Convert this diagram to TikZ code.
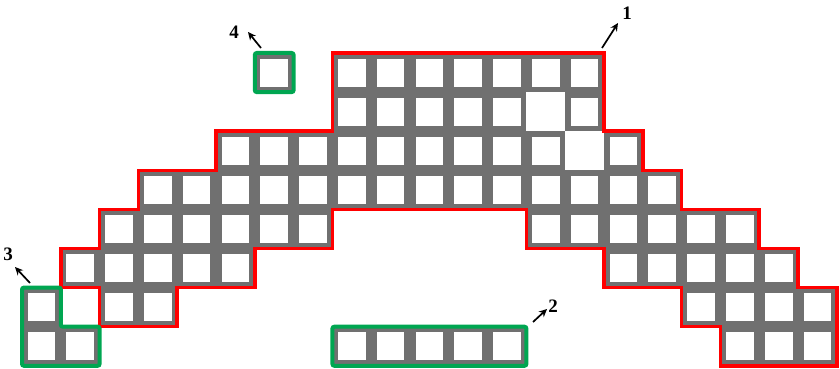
\documentclass[tikz,border=0pt]{standalone}
\usepackage{fontspec}
\setmainfont{Liberation Serif}
\usetikzlibrary{arrows.meta}
\definecolor{cellgray}{RGB}{112,112,112}
\definecolor{redline}{RGB}{255,0,0}
\definecolor{greenline}{RGB}{0,166,81}
\begin{document}
\begin{tikzpicture}[x=1pt,y=-1pt,
  lab/.style={font=\fontsize{19}{19}\selectfont\bfseries, inner sep=0pt},
  arr/.style={-{Stealth[length=8pt,width=7.5pt]}, line width=1.7pt},
  redpoly/.style={draw=redline, line width=3.5pt},
  greenbox/.style={draw=greenline, line width=4pt, rounded corners=2pt}]
\useasboundingbox (0,0) rectangle (840,369);
\begin{scope}[xshift=22pt, yshift=-53pt, x=38.8pt, y=-39.1pt]
  \foreach \r/\cs in {0/{6,8,9,10,11,12,13,14},
                      1/{8,9,10,11,12,14},
                      2/{5,6,7,8,9,10,11,12,13,15},
                      3/{3,4,5,6,7,8,9,10,11,12,13,14,15,16},
                      4/{2,3,4,5,6,7,13,14,15,16,17,18},
                      5/{1,2,3,4,5,15,16,17,18,19},
                      6/{0,2,3,17,18,19,20},
                      7/{0,1,8,9,10,11,12,18,19,20}}{
    \foreach \c in \cs {
      \fill[cellgray] (\c,\r) rectangle ++(1,1);
      \fill[white] (\c+0.142,\r+0.141) rectangle ++(0.716,0.718);
    }
  }
  \draw[redpoly] (8,0) -- (15,0) -- (15,2) -- (16,2) -- (16,3) -- (17,3) -- (17,4)
    -- (19,4) -- (19,5) -- (20,5) -- (20,6) -- (21,6) -- (21,8) -- (18,8) -- (18,7)
    -- (17,7) -- (17,6) -- (15,6) -- (15,5) -- (13,5) -- (13,4) -- (8,4) -- (8,5)
    -- (6,5) -- (6,6) -- (4,6) -- (4,7) -- (2,7) -- (2,6) -- (1,6) -- (1,5) -- (2,5)
    -- (2,4) -- (3,4) -- (3,3) -- (5,3) -- (5,2) -- (8,2) -- cycle;
  \draw[greenbox] (6,0) rectangle (7,1);
  \draw[greenbox] (8,7) rectangle (13,8);
  \draw[greenbox] (0,6) -- (1,6) -- (1,7) -- (2,7) -- (2,8) -- (0,8) -- cycle;
\end{scope}
\node[lab] (l1) at (627,13) {1};
\node[lab] (l2) at (553,306) {2};
\node[lab] (l3) at (8,254) {3};
\node[lab] (l4) at (234,32) {4};
\coordinate (t1) at (602,48);  \coordinate (h1) at (618,23);
\coordinate (t2) at (533,322); \coordinate (h2) at (547,309);
\coordinate (t3) at (30,283);  \coordinate (h3) at (15,267);
\coordinate (t4) at (261,48);  \coordinate (h4) at (248,32);
\draw[arr] (t1) -- (h1);
\draw[arr] (t2) -- (h2);
\draw[arr] (t3) -- (h3);
\draw[arr] (t4) -- (h4);
\end{tikzpicture}
\end{document}
